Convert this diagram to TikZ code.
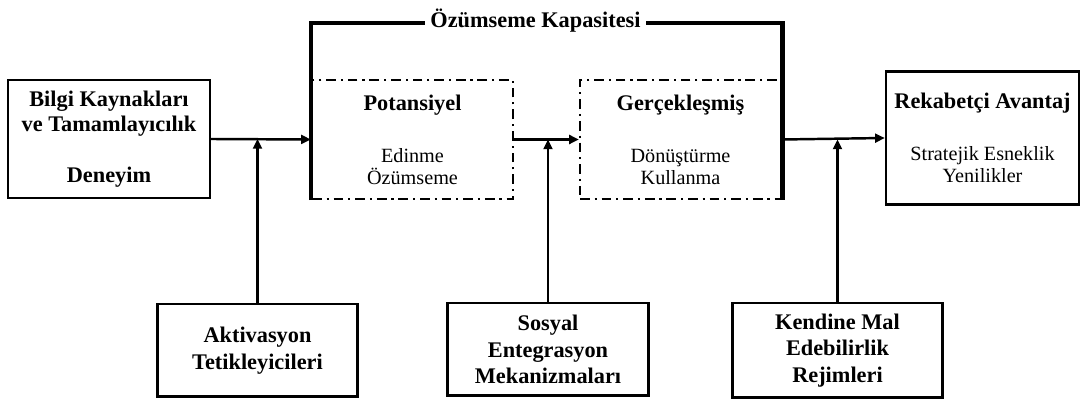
\documentclass[tikz,border=0pt]{standalone}
\usepackage{fontspec}
\setmainfont{Liberation Serif}
\usetikzlibrary{arrows.meta}

\begin{document}
\begin{tikzpicture}[x=0.02cm,y=-0.02cm,
box/.style={draw,line width=1.4pt,align=center,inner sep=0pt},
dashbox/.style={draw,line width=1.3pt,dash pattern=on 5.5pt off 2.8pt on 1.2pt off 2.8pt,align=center,inner sep=0pt},
lowbox/.style={draw,line width=1.7pt,align=center,inner sep=0pt,font=\fontsize{12.7}{15}\selectfont\bfseries},
link/.style={line width=1.4pt,-{Triangle[length=5.5pt,width=5pt]}},
capline/.style={line width=2.7pt}]
\useasboundingbox (0,0) rectangle (1082,401);

\path (109,139) node[box,minimum width=4.04cm,minimum height=2.36cm,font=\fontsize{12.7}{14.2}\selectfont\bfseries](bilgi){Bilgi Kaynakları\\ve Tamamlayıcılık\\[0.52cm]Deneyim}
(412.5,139.5) node[dashbox,minimum width=4.02cm,minimum height=2.38cm,font=\fontsize{11.5}{12.6}\selectfont](pot){{\fontsize{12.7}{12.6}\selectfont\bfseries Potansiyel}\\[17pt]Edinme\\Özümseme}
(680.5,139.5) node[dashbox,minimum width=4.02cm,minimum height=2.38cm,font=\fontsize{11.5}{12.6}\selectfont](ger){{\fontsize{12.7}{12.6}\selectfont\bfseries Gerçekleşmiş}\\[17pt]Dönüştürme\\Kullanma}
(982.5,138) node[box,minimum width=3.86cm,minimum height=2.66cm,font=\fontsize{11.5}{12.6}\selectfont](rek){{\fontsize{12.7}{12.6}\selectfont\bfseries Rekabetçi Avantaj}\\[17pt]Stratejik Esneklik\\Yenilikler}
(257.5,350.5) node[lowbox,minimum width=4.02cm,minimum height=1.86cm](akt){Aktivasyon\\Tetikleyicileri}
(548,349.5) node[lowbox,minimum width=4.04cm,minimum height=1.86cm](sos){Sosyal\\Entegrasyon\\Mekanizmaları}
(837.5,350.5) node[lowbox,minimum width=4.22cm,minimum height=1.9cm](ken){Kendine Mal\\Edebilirlik\\Rejimleri}
(535.5,21) node[inner sep=3pt,font=\fontsize{12.7}{14.2}\selectfont\bfseries](kap){Özümseme Kapasitesi};

\draw[capline] (pot.south west) -- (pot.west |- 0,23) -- (kap.west |- 0,23);
\draw[capline] (kap.east |- 0,23) -- (ger.east |- 0,23) -- (ger.south east);

\draw[link] (bilgi.east) -- (pot.west);
\draw[link] (pot.east) -- (ger.west);
\draw[link] (ger.east) -- (rek.west);
\draw[link] (akt.north) -- (akt.north |- bilgi.east);
\draw[link] (sos.north) -- (sos.north |- pot.east);
\draw[link] (ken.north) -- (ken.north |- ger.east);
\end{tikzpicture}
\end{document}
